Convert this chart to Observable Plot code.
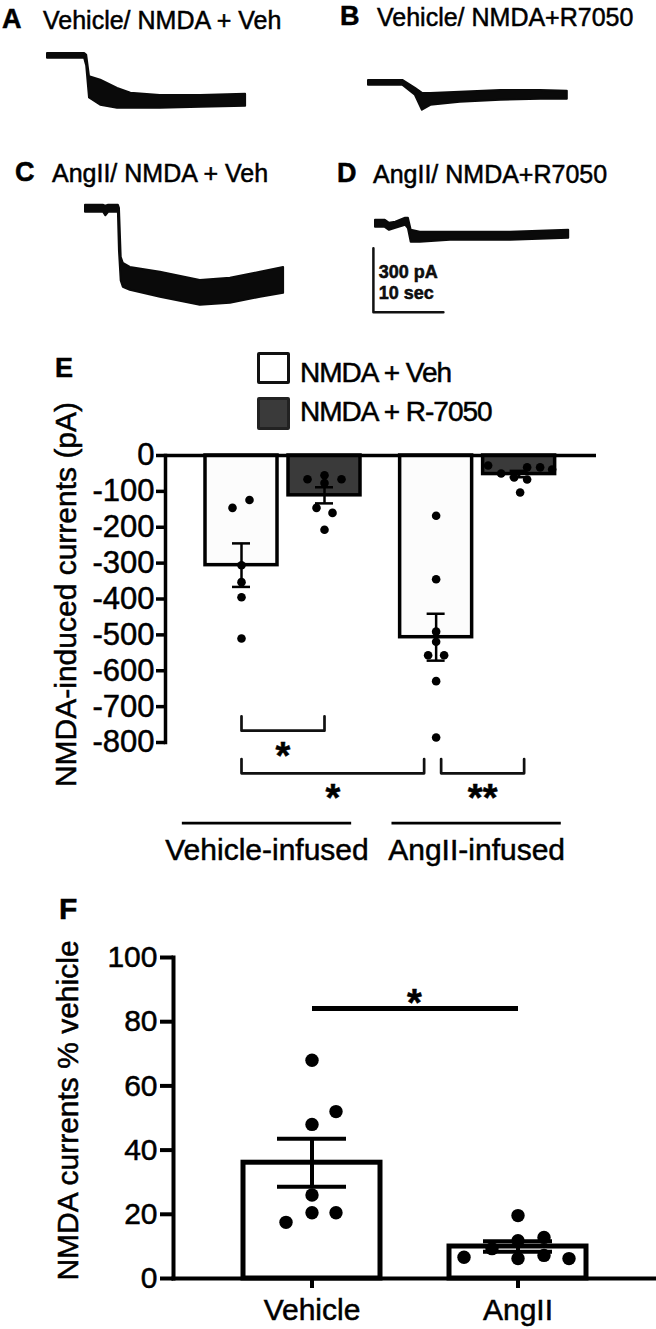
<!DOCTYPE html>
<html>
<head>
<meta charset="utf-8">
<script src="https://cdn.jsdelivr.net/npm/d3@7"></script>
<script src="https://cdn.jsdelivr.net/npm/@observablehq/plot@0.6"></script>
<style>
  html, body { margin: 0; padding: 0; background: #fff; }
  #root { position: relative; width: 656px; height: 1329px; overflow: hidden;
          font-family: "Liberation Sans", Arial, Helvetica, sans-serif; color: #000; background: #fff; }
  .txt { position: absolute; white-space: nowrap; line-height: 1; -webkit-text-stroke: 0.5px #000; }
  .box { position: absolute; box-sizing: border-box; border-radius: 2px; }
  #root svg text { stroke: #000; stroke-width: 0.5px; }
</style>
</head>
<body>
<div id="root"></div>
<script>
// ======================= DATA =======================
// Panel titles
const panelLetters = ["A", "B", "C", "D", "E", "F"];
const panelTitles = ["Vehicle/ NMDA + Veh", "Vehicle/ NMDA+R7050", "AngII/ NMDA + Veh", "AngII/ NMDA+R7050"];

// Panels A–D: current traces, time (s) vs current (pA); upper (hi) and lower (lo) edge of the noisy trace
const traceA_t  = [0, 5.3, 5.6, 6.0, 7.6, 10, 11.9, 16.1, 21.9, 28.3];
const traceA_hi = [9, 9, 0, -100, -117, -155, -178, -188, -188, -183];
const traceA_lo = [-14, -14, -50, -200, -234, -248, -248, -248, -244, -239];

const traceB_t  = [0, 4.9, 6.7, 7.7, 8.9, 13.1, 18.9, 24.6, 28.4];
const traceB_hi = [9, 9, -28, -52, -52, -47, -38, -38, -42];
const traceB_lo = [-14, -14, -61, -131, -108, -94, -84, -80, -80];

const traceC_t  = [0, 2.6, 2.9, 3.3, 4.7, 4.85, 5.1, 5.4, 6.4, 10.7, 16.4, 20.7, 25, 28.3];
const traceC_hi = [14, 14, 10, 14, 14, 0, -230, -258, -277, -300, -338, -328, -300, -277];
const traceC_lo = [-19, -19, -35, -19, -19, -200, -340, -370, -384, -417, -455, -445, -417, -398];

const traceD_t  = [0, 1.4, 2.0, 2.9, 4.3, 4.7, 5.1, 6.4, 10.7, 19.3, 27.6];
const traceD_hi = [14, 14, 0, 5, 24, 24, -33, -42, -42, -42, -33];
const traceD_lo = [-19, -19, -33, -23, -9, -25, -89, -89, -80, -80, -70];

// Scale bar
const scaleBarPA = 300;
const scaleBarSec = 10;
const scaleBarLabels = ["300 pA", "10 sec"];

// Panel E: NMDA-induced currents (pA)
const groupsE = ["Vehicle-infused", "AngII-infused"];
const treatE = ["NMDA + Veh", "NMDA + R-7050"];
const eVehicleVeh  = [-124, -146, -306, -353, -395, -510];
const eVehicleR7050 = [-66, -55, -66, -77, -146, -160, -207];
const eAngIIVeh    = [-168, -345, -491, -519, -557, -557, -629, -786];
const eAngIIR7050  = [-28, -50, -61, -33, -67, -33, -39, -103];
// horizontal scatter of the dots as drawn in the figure (px)
const jitVehicleVeh  = [8, -9, 0, 0, 0, 0];
const jitVehicleR7050 = [-17, 0, 17, 0, -8, 8, 0];
const jitAngIIVeh    = [0, 0, 0, 0, -8, 8, 0, 0];
const jitAngIIR7050  = [-31, -18, -5, 8, 8, 21, 33, 1];
const yTicksE = [0, -100, -200, -300, -400, -500, -600, -700, -800];
const yTitleE = "NMDA-induced currents (pA)";
const sigE = [
  {from: ["Vehicle-infused", "NMDA + Veh"], to: ["Vehicle-infused", "NMDA + R-7050"], label: "*"},
  {from: ["Vehicle-infused", "NMDA + Veh"], to: ["AngII-infused", "NMDA + Veh"], label: "*"},
  {from: ["AngII-infused", "NMDA + Veh"], to: ["AngII-infused", "NMDA + R-7050"], label: "**"}
];

// Panel F: NMDA currents % vehicle
const groupsF = ["Vehicle", "AngII"];
const fVehicle = [68, 52, 48, 26, 17.5, 20.5, 20.5];
const fAngII   = [6.6, 9.3, 11.8, 6.2, 19.6, 12.8, 7.2, 6.2];
const jitFVehicle = [0, 24, 0, 0, -26, 0, 24];
const jitFAngII   = [-54, -26, 0, 0, 0, 26, 26, 51];
const yTicksF = [0, 20, 40, 60, 80, 100];
const yTitleF = "NMDA currents % vehicle";
const sigF = {from: "Vehicle", to: "AngII", label: "*"};

// ======================= HELPERS =======================
const FONT = '"Liberation Sans", Arial, Helvetica, sans-serif';
const root = document.getElementById("root");
function addText(str, x, baseline, size, weight = "normal", extra = {}) {
  const d = document.createElement("div");
  d.className = "txt";
  d.textContent = str;
  d.style.left = x + "px";
  d.style.top = (baseline - 0.8465 * size) + "px";
  d.style.fontSize = size + "px";
  d.style.fontWeight = weight;
  Object.assign(d.style, extra);
  root.appendChild(d);
  return d;
}
function place(el, left, top) {
  el.style.position = "absolute";
  el.style.left = left + "px";
  el.style.top = top + "px";
  root.appendChild(el);
}
const baseStyle = {background: "transparent", fontFamily: FONT, overflow: "visible", color: "#000"};

// ======================= PANELS A–D =======================
const titleLayout = [
  {letter: [2, 29], title: [43, 29]},
  {letter: [340, 26], title: [377, 26]},
  {letter: [15, 182], title: [52, 182]},
  {letter: [337, 183], title: [373, 183]}
];
panelTitles.forEach((t, i) => {
  addText(panelLetters[i], titleLayout[i].letter[0], titleLayout[i].letter[1], 27, "bold");
  addText(t, titleLayout[i].title[0], titleLayout[i].title[1], 25, "normal");
});

const PX_PER_S = 7, PX_PER_PA = 64 / 300;
const T_MIN = -1, T_MAX = 30, PA_TOP = 60, TRACE_H = 124;
function traceChart(t, hi, lo, extra = []) {
  const data = t.map((d, i) => ({t: d, hi: hi[i], lo: lo[i]}));
  return Plot.plot({
    width: (T_MAX - T_MIN) * PX_PER_S,
    height: TRACE_H,
    margin: 0,
    x: {domain: [T_MIN, T_MAX], axis: null},
    y: {domain: [PA_TOP - TRACE_H / PX_PER_PA, PA_TOP], axis: null},
    style: baseStyle,
    marks: [
      Plot.areaY(data, {x: "t", y1: "lo", y2: "hi", fill: "#0a0a0a", stroke: "#0a0a0a", strokeWidth: 2}),
      ...extra
    ]
  });
}
// scale bar drawn with trace D's scales
const sbT0 = -0.3, sbTop = -117;
const sbPath = [
  {t: sbT0, a: sbTop},
  {t: sbT0, a: sbTop - scaleBarPA},
  {t: sbT0 + scaleBarSec, a: sbTop - scaleBarPA}
];
const sbText = [
  {t: 0.45, a: -230, s: scaleBarLabels[0]},
  {t: 0.45, a: -328, s: scaleBarLabels[1]}
];
const sbMarks = [
  Plot.line(sbPath, {x: "t", y: "a", stroke: "#111", strokeWidth: 2.5}),
  Plot.text(sbText, {x: "t", y: "a", text: "s", textAnchor: "start", lineAnchor: "middle", fontSize: 18, fontWeight: "bold", fill: "#111"})
];
// page position (px) of t = 0, 0 pA for each trace
const traceOrigins = [[47, 55], [368, 82], [85, 208], [375, 223]];
const traces = [
  traceChart(traceA_t, traceA_hi, traceA_lo),
  traceChart(traceB_t, traceB_hi, traceB_lo),
  traceChart(traceC_t, traceC_hi, traceC_lo),
  traceChart(traceD_t, traceD_hi, traceD_lo, sbMarks)
];
traces.forEach((c, i) => place(c, traceOrigins[i][0] + T_MIN * PX_PER_S, traceOrigins[i][1] - PA_TOP * PX_PER_PA));

// ======================= PANEL E =======================
// legend
const legBox1 = document.createElement("div");
legBox1.className = "box";
Object.assign(legBox1.style, {left: "257px", top: "352px", width: "33px", height: "32px", border: "3px solid #111", background: "#fff"});
root.appendChild(legBox1);
const legBox2 = document.createElement("div");
legBox2.className = "box";
Object.assign(legBox2.style, {left: "257px", top: "397px", width: "33px", height: "33px", border: "3px solid #222", background: "#3a3a3a"});
root.appendChild(legBox2);
addText(treatE[0], 300, 383, 28, "normal", {letterSpacing: "-1px"});
addText(treatE[1], 300, 422, 28, "normal", {letterSpacing: "-1px"});

const STEP_E = 83;             // px between bars of a group
const GROUP_GAP_E = 2.345;     // bar steps between the two groups
const HALF_BAR_E = 36 / STEP_E;
const CAP_E = 9 / STEP_E;
const xDomE = [-(241 - 165) / STEP_E, (596 - 241) / STEP_E];
const eValues = [[eVehicleVeh, eVehicleR7050], [eAngIIVeh, eAngIIR7050]];
const eJitter = [[jitVehicleVeh, jitVehicleR7050], [jitAngIIVeh, jitAngIIR7050]];
const posE = (g, t) => groupsE.indexOf(g) * GROUP_GAP_E + treatE.indexOf(t);
const statsE = [], dotsE = [];
groupsE.forEach((g, gi) => treatE.forEach((t, ti) => {
  const vals = eValues[gi][ti];
  const pos = posE(g, t);
  const mean = d3.mean(vals), sem = d3.deviation(vals) / Math.sqrt(vals.length);
  statsE.push({group: g, treat: t, pos, mean, lo: mean - sem, hi: mean + sem});
  vals.forEach((v, i) => dotsE.push({group: g, treat: t, pos, value: v, jit: eJitter[gi][ti][i]}));
}));
const bracketLevels = [-767, -886, -886];
const bracketNudge = [[0, 0], [0, -12], [5, 5]];
const TIP = 40, STAR_OFF = 44;
const bracketPts = [], starsE = [];
sigE.forEach((s, i) => {
  const x1 = posE(...s.from) + bracketNudge[i][0] / STEP_E;
  const x2 = posE(...s.to) + bracketNudge[i][1] / STEP_E;
  const L = bracketLevels[i];
  bracketPts.push({id: i, x: x1, y: L + TIP}, {id: i, x: x1, y: L}, {id: i, x: x2, y: L}, {id: i, x: x2, y: L + TIP});
  starsE.push({x: (x1 + x2) / 2, y: L - STAR_OFF, label: s.label});
});
const labelNudgeE = [-16, -1];
const groupRowsE = groupsE.map((g, gi) => {
  const c = gi * GROUP_GAP_E + 0.5 + labelNudgeE[gi] / STEP_E;
  return {name: g, cx: c, x1: c - 1.02, x2: c + 1.02};
});

const chartE = Plot.plot({
  width: 656, height: 440,
  marginTop: 15, marginBottom: 138, marginLeft: 165, marginRight: 60,
  x: {domain: xDomE, axis: null},
  y: {domain: [-800, 0]},
  color: {domain: treatE, range: ["#fcfcfc", "#3a3a3a"]},
  style: baseStyle,
  marks: [
    Plot.rectY(statsE, {x1: d => d.pos - HALF_BAR_E, x2: d => d.pos + HALF_BAR_E, y1: () => 0, y2: "mean",
                        fill: "treat", stroke: "#000", strokeWidth: 3.5}),
    Plot.ruleY([0], {strokeWidth: 3.5}),
    Plot.frame({anchor: "left", strokeWidth: 3.5}),
    Plot.axisY(yTicksE, {tickFormat: d => String(d), tickSize: 9, tickPadding: 2, fontSize: 31, strokeWidth: 3.5, label: null}),
    Plot.ruleX(statsE, {x: "pos", y1: "lo", y2: "hi", strokeWidth: 2.5}),
    Plot.ruleY(statsE, {y: "lo", x1: d => d.pos - CAP_E, x2: d => d.pos + CAP_E, strokeWidth: 2.5}),
    Plot.ruleY(statsE, {y: "hi", x1: d => d.pos - CAP_E, x2: d => d.pos + CAP_E, strokeWidth: 2.5}),
    Plot.dot(dotsE, {x: d => d.pos + d.jit / STEP_E, y: "value", r: 4.3, fill: "#000"}),
    Plot.line(bracketPts, {x: "x", y: "y", z: "id", stroke: "#111", strokeWidth: 2.7}),
    Plot.text(starsE, {x: "x", y: "y", text: "label", fontSize: 38, fontWeight: "bold", lineAnchor: "middle", dy: 10}),
    Plot.ruleY(groupRowsE, {y: () => -1025, x1: "x1", x2: "x2", strokeWidth: 2.7}),
    Plot.text(groupRowsE, {x: "cx", y: () => -1101, text: "name", fontSize: 30, lineAnchor: "middle"}),
    Plot.text([yTitleE], {text: d => d, frameAnchor: "left", textAnchor: "middle", rotate: -90, dx: -99, dy: -4.5, fontSize: 30, lineAnchor: "middle"})
  ]
});
place(chartE, 0, 440);
addText(panelLetters[4], 55, 378, 27, "bold");

// ======================= PANEL F =======================
const fValues = [fVehicle, fAngII];
const fJitter = [jitFVehicle, jitFAngII];
const statsF = groupsF.map((g, gi) => {
  const vals = fValues[gi];
  const mean = d3.mean(vals), sem = d3.deviation(vals) / Math.sqrt(vals.length);
  return {group: g, mean, lo: mean - sem, hi: mean + sem};
});
const dotsF = [];
groupsF.forEach((g, gi) => fValues[gi].forEach((v, i) => dotsF.push({group: g, value: v, jit: fJitter[gi][i]})));
const jitSetF = Array.from(new Set(dotsF.map(d => d.jit)));
const SIG_F_LEVEL = 84.1, STAR_F = 88.8;

const chartF = Plot.plot({
  width: 656, height: 449,
  marginTop: 77, marginBottom: 51, marginLeft: 173, marginRight: 1,
  x: {domain: groupsF, padding: 0.337},
  y: {domain: [0, 100]},
  style: baseStyle,
  marks: [
    Plot.barY(statsF, {x: "group", y: "mean", fill: "#fff", stroke: "#000", strokeWidth: 5}),
    Plot.ruleX(statsF, {x: "group", y1: "lo", y2: "hi", strokeWidth: 4}),
    Plot.tickY(statsF, {x: "group", y: "lo", insetLeft: 34, insetRight: 34, strokeWidth: 4}),
    Plot.tickY(statsF, {x: "group", y: "hi", insetLeft: 34, insetRight: 34, strokeWidth: 4}),
    ...jitSetF.map(j => Plot.dot(dotsF.filter(d => d.jit === j), {x: "group", y: "value", r: 6.7, fill: "#000", dx: j})),
    Plot.frame({anchor: "left", strokeWidth: 4}),
    Plot.frame({anchor: "bottom", strokeWidth: 4}),
    Plot.axisY(yTicksF, {tickSize: 13, tickPadding: 3, fontSize: 30, strokeWidth: 4, label: null}),
    Plot.axisX({tickSize: 10, tickPadding: 10, fontSize: 30, strokeWidth: 4, label: null}),
    Plot.link([sigF], {x1: "from", x2: "to", y1: () => SIG_F_LEVEL, y2: () => SIG_F_LEVEL, strokeWidth: 5}),
    Plot.text([sigF], {x: "from", y: () => STAR_F, text: "label", dx: 102.5, dy: 10, fontSize: 38, fontWeight: "bold", lineAnchor: "middle"}),
    Plot.text([yTitleF], {text: d => d, frameAnchor: "left", textAnchor: "middle", rotate: -90, dx: -105, dy: -7.5, fontSize: 30, lineAnchor: "middle"})
  ]
});
place(chartF, 0, 880);
addText(panelLetters[5], 59, 919, 30, "bold");
</script>
</body>
</html>
